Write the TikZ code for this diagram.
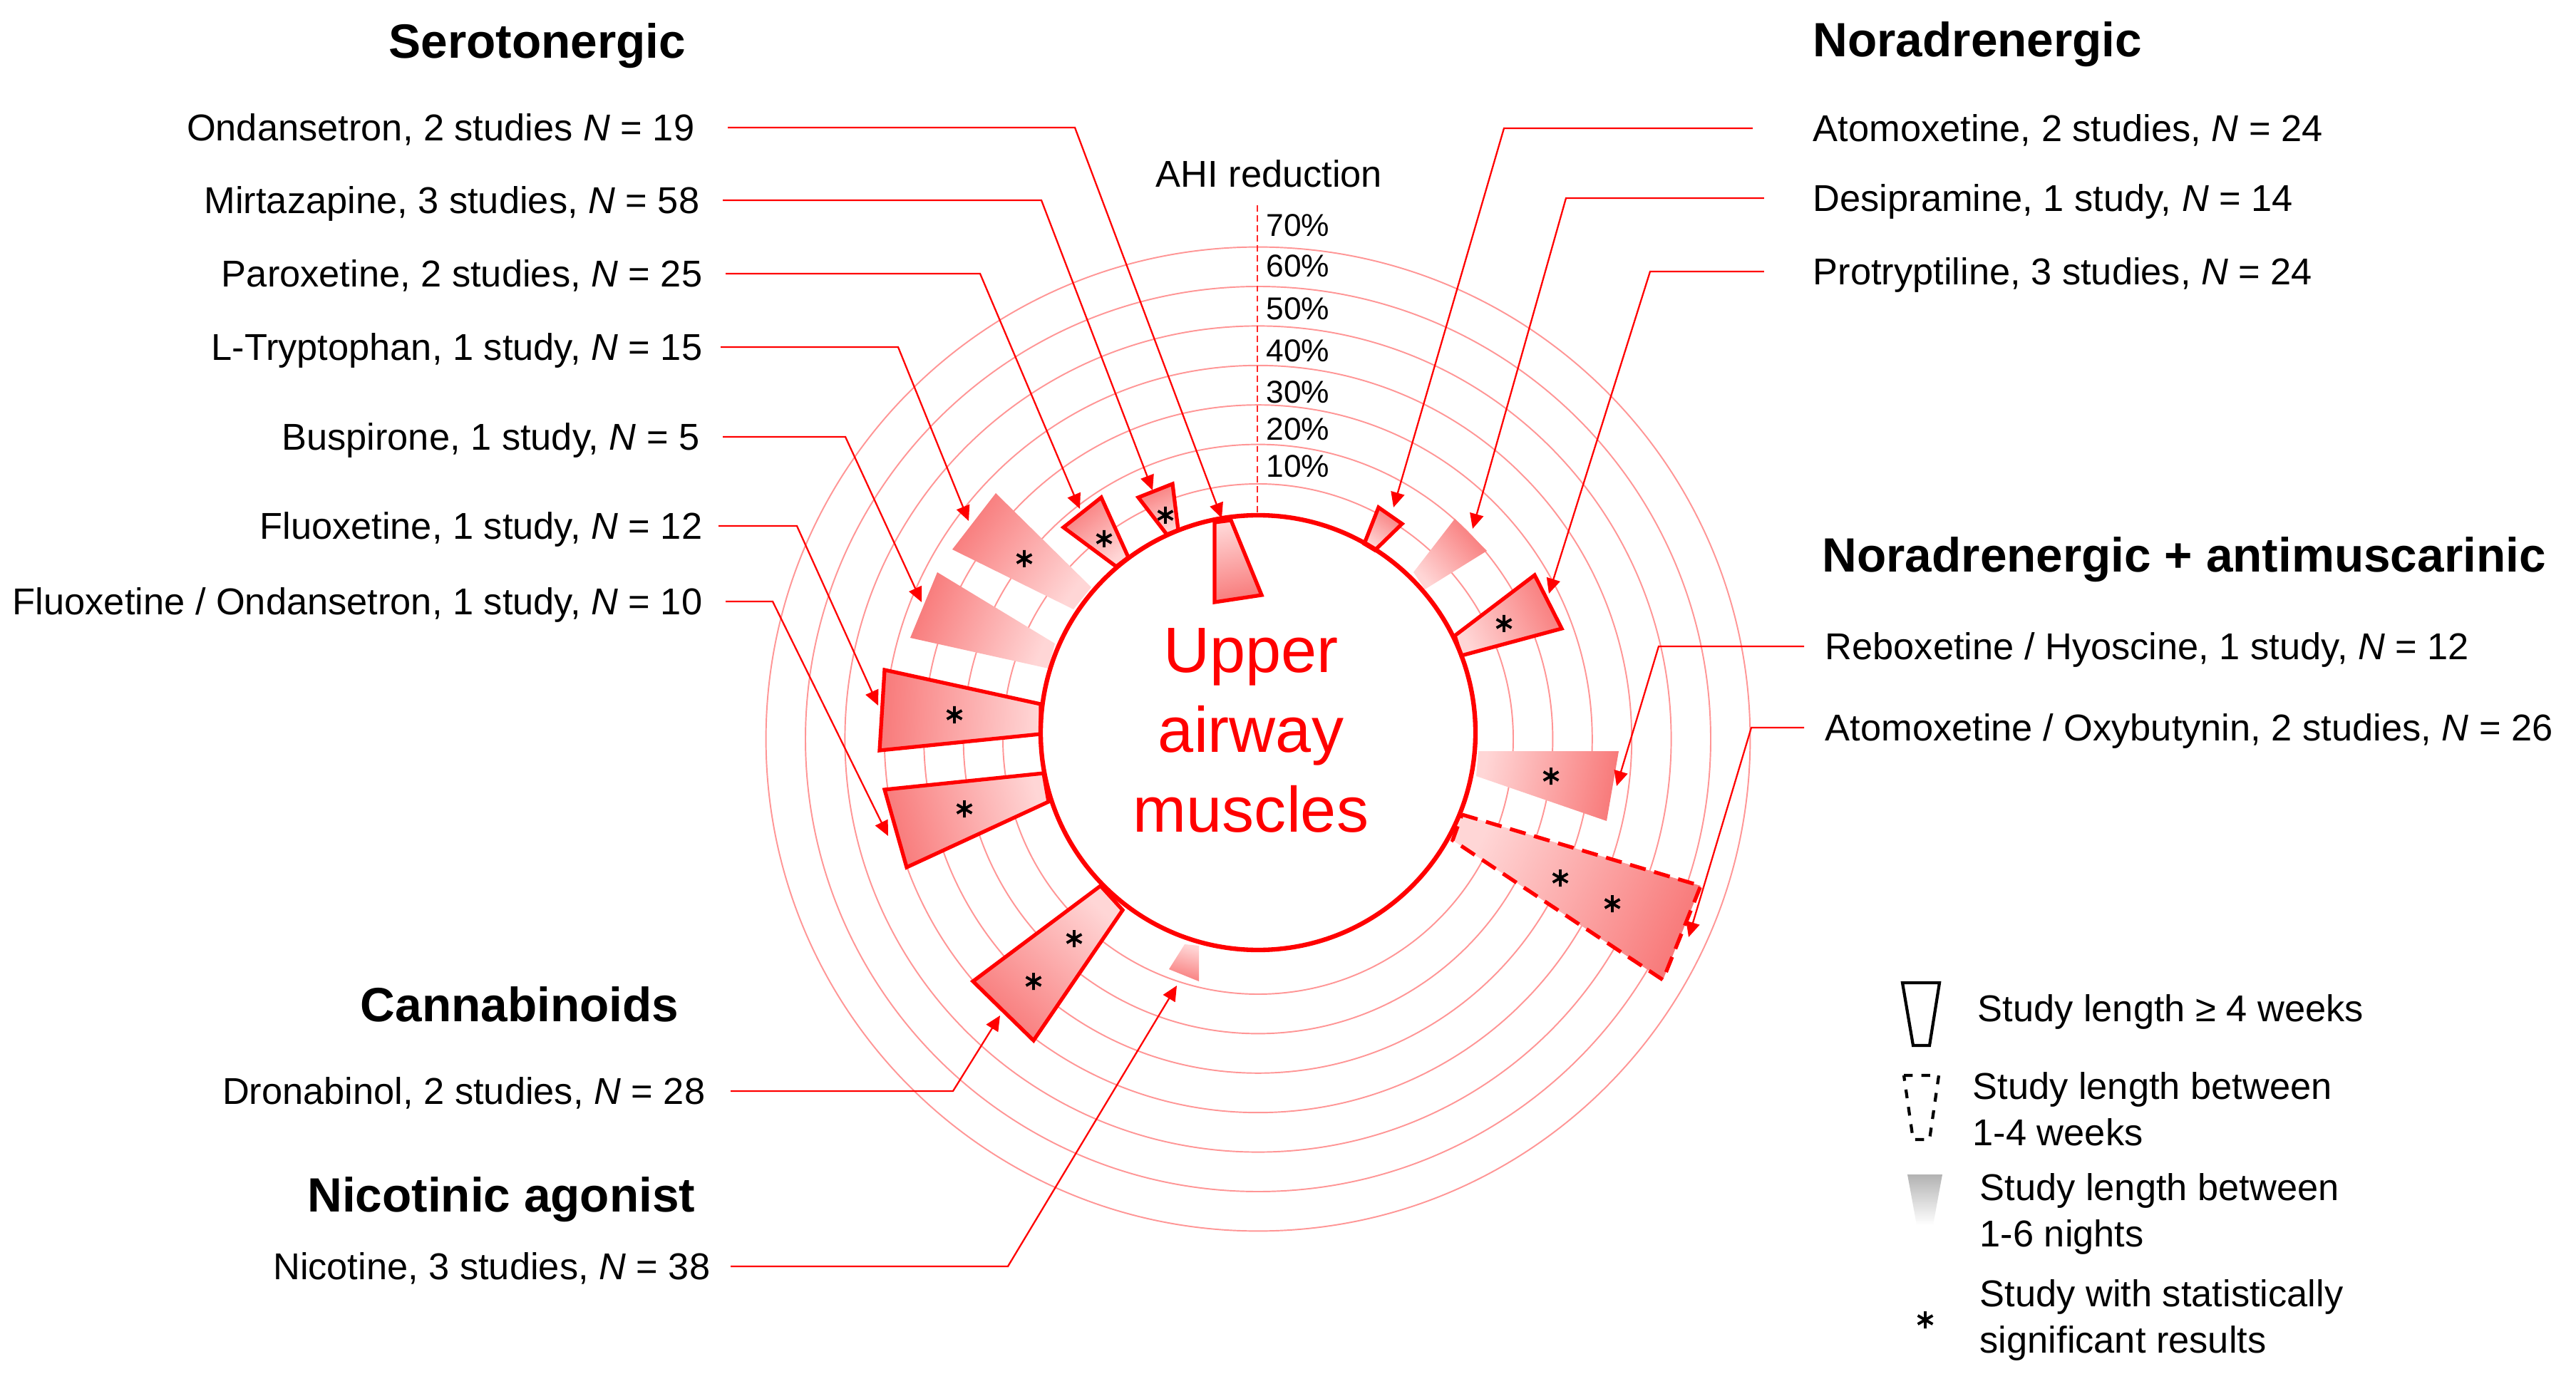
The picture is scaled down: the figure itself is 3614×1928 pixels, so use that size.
\documentclass[tikz,border=0pt]{standalone}
\usepackage{fontspec}
\setmainfont{Liberation Sans}
\usetikzlibrary{arrows.meta}
\definecolor{wdark}{RGB}{248,122,122}
\definecolor{wlight}{RGB}{255,214,214}
\definecolor{ringc}{RGB}{255,150,150}
\begin{document}
\begin{tikzpicture}[x=0.01cm,y=-0.01cm,
  ring/.style={draw=ringc, line width=0.55pt},
  conn/.style={draw=red, line width=0.65pt, -{Triangle[length=6pt,width=5.5pt]}},
  solidw/.style={draw=red, line width=1.5pt, line join=miter},
  dashw/.style={draw=red, line width=1.5pt, dash pattern=on 6.5pt off 3.5pt},
  lab/.style={font=\fontsize{14.9}{18}\selectfont, inner sep=0pt, text height=10.7pt, text depth=0pt},
  head/.style={font=\fontsize{19.2}{23}\selectfont\bfseries, inner sep=0pt, text height=13.75pt, text depth=0pt},
  pct/.style={font=\fontsize{12.6}{15}\selectfont, inner sep=0pt, anchor=west, text height=9pt, text depth=0pt},
  leg/.style={font=\fontsize{14.9}{18.5}\selectfont, inner sep=0pt, anchor=west, align=left},
  sigstar/.pic={\draw[line width=1.1pt, black] (0,-12)--(0,12) (-10.4,-6)--(10.4,6) (-10.4,6)--(10.4,-6);}
]
\useasboundingbox (0,0) rectangle (3614,1928);
\fill[white] (0,0) rectangle (3614,1928);

% rings
\foreach \r in {358,413.4,468.8,524.2,579.6,635,690.4}
  \draw[ring] (1765,1037) circle[radius=\r];

% axis
\coordinate (axTop) at (1764,288);
\coordinate (axBot) at (1764,723);
\draw[red!85, line width=0.5pt, dash pattern=on 2.5pt off 1.5pt] (axTop) -- (axBot);

% wedges
% A Ondansetron (inward)
\path[solidw, left color=wlight, right color=wdark, shading angle=11.4] (1704,733) -- (1727,730) -- (1770,835) -- (1704,845) -- cycle;
% B Mirtazapine
\path[solidw, left color=wlight, right color=wdark, shading angle=202] (1597,698) -- (1645,679) -- (1653,744) -- (1637,750) -- cycle;
\pic at (1635,723) {sigstar};
% C Paroxetine
\path[solidw, left color=wlight, right color=wdark, shading angle=219] (1492,740) -- (1545,698) -- (1583,782) -- (1566,795) -- cycle;
\pic at (1549,756) {sigstar};
% D L-Tryptophan
\path[left color=wlight, right color=wdark, shading angle=234] (1336,771) -- (1397,692) -- (1531,824) -- (1506,855) -- cycle;
\pic at (1437,784) {sigstar};
% E Buspirone
\path[left color=wlight, right color=wdark, shading angle=248] (1315,803) -- (1480,903) -- (1471,938) -- (1277,895) -- cycle;
% F Fluoxetine
\path[solidw, left color=wlight, right color=wdark, shading angle=267] (1241,940) -- (1460,988) -- (1460,1030) -- (1234,1053) -- cycle;
\pic at (1339,1003) {sigstar};
% G Fluoxetine / Ondansetron
\path[solidw, left color=wlight, right color=wdark, shading angle=285] (1241,1108) -- (1464,1085) -- (1471,1125) -- (1272,1217) -- cycle;
\pic at (1353,1135) {sigstar};
% H Dronabinol
\path[solidw, left color=wlight, right color=wdark, shading angle=316] (1544,1243) -- (1575,1277) -- (1450,1460) -- (1365,1377) -- cycle;
\pic at (1507,1317) {sigstar};
\pic at (1450,1377) {sigstar};
% I Nicotine
\path[left color=wlight, right color=wdark, shading angle=345] (1662,1325) -- (1682,1327) -- (1682,1377) -- (1640,1360) -- cycle;
% J Atomoxetine
\path[solidw, left color=wlight, right color=wdark, shading angle=147] (1934,712) -- (1967,735) -- (1929,772) -- (1914,763) -- cycle;
% K Desipramine
\path[left color=wlight, right color=wdark, shading angle=132] (2041,728) -- (2086,773) -- (1999,827) -- (1983,803) -- cycle;
% L Protryptiline
\path[solidw, left color=wlight, right color=wdark, shading angle=116] (2041,892) -- (2153,807) -- (2191,882) -- (2050,920) -- cycle;
\pic at (2110,875) {sigstar};
% M Reboxetine / Hyoscine
\path[left color=wlight, right color=wdark, shading angle=80] (2074,1054) -- (2271,1054) -- (2254,1152) -- (2071,1089) -- cycle;
\pic at (2176,1089) {sigstar};
% N Atomoxetine / Oxybutynin
\path[dashw, left color=wlight, right color=wdark, shading angle=65] (2051,1143) -- (2386,1243) -- (2333,1375) -- (2038,1179) -- cycle;
\pic at (2189,1232) {sigstar};
\pic at (2262,1268) {sigstar};

% main circle
\draw[red, line width=1.8pt] (1765,1028) circle[radius=305];
\node[text=red, font=\fontsize{25.6}{31.9}\selectfont, align=center] (ctr) at (1755,1025) {Upper\\airway\\muscles};

% AHI scale
\node[lab, anchor=west] (ahi) at (1621,244) {AHI reduction};
\node[pct] (p70) at (1776,316) {70\%};
\node[pct] (p60) at (1776,373) {60\%};
\node[pct] (p50) at (1776,433) {50\%};
\node[pct] (p40) at (1776,492) {40\%};
\node[pct] (p30) at (1776,550) {30\%};
\node[pct] (p20) at (1776,602) {20\%};
\node[pct] (p10) at (1776,654) {10\%};

% headings
\node[head, anchor=east] (hSer) at (963,57) {Serotonergic};
\node[head, anchor=west] (hNor) at (2543,55) {Noradrenergic};
\node[head, anchor=west] (hNorA) at (2556,778) {Noradrenergic + antimuscarinic};
\node[head, anchor=east] (hCan) at (953,1409) {Cannabinoids};
\node[head, anchor=east] (hNic) at (976,1676) {Nicotinic agonist};

% left labels
\node[lab, anchor=east] (lOnd) at (975,179) {Ondansetron, 2 studies \textit{N} = 19};
\node[lab, anchor=east] (lMir) at (982,281) {Mirtazapine, 3 studies, \textit{N} = 58};
\node[lab, anchor=east] (lPar) at (986,384) {Paroxetine, 2 studies, \textit{N} = 25};
\node[lab, anchor=east] (lTry) at (986,487) {L-Tryptophan, 1 study, \textit{N} = 15};
\node[lab, anchor=east] (lBus) at (982,613) {Buspirone, 1 study, \textit{N} = 5};
\node[lab, anchor=east] (lFlu) at (986,738) {Fluoxetine, 1 study, \textit{N} = 12};
\node[lab, anchor=east] (lFlO) at (986,844) {Fluoxetine / Ondansetron, 1 study, \textit{N} = 10};
\node[lab, anchor=east] (lDro) at (990,1531) {Dronabinol, 2 studies, \textit{N} = 28};
\node[lab, anchor=east] (lNic) at (997,1777) {Nicotine, 3 studies, \textit{N} = 38};

% right labels
\node[lab, anchor=west] (lAto) at (2543,180) {Atomoxetine, 2 studies, \textit{N} = 24};
\node[lab, anchor=west] (lDes) at (2543,278) {Desipramine, 1 study, \textit{N} = 14};
\node[lab, anchor=west] (lPro) at (2543,381) {Protryptiline, 3 studies, \textit{N} = 24};
\node[lab, anchor=west] (lReb) at (2560,907) {Reboxetine / Hyoscine, 1 study, \textit{N} = 12};
\node[lab, anchor=west] (lAOx) at (2560,1021) {Atomoxetine / Oxybutynin, 2 studies, \textit{N} = 26};

% bends and tips
\coordinate (bOnd) at (1508,179);  \coordinate (tOnd) at (1714,727);
\coordinate (bMir) at (1461,281);  \coordinate (tMir) at (1617,688);
\coordinate (bPar) at (1375,384);  \coordinate (tPar) at (1515,714);
\coordinate (bTry) at (1260,487);  \coordinate (tTry) at (1359,731);
\coordinate (bBus) at (1186,613);  \coordinate (tBus) at (1293,845);
\coordinate (bFlu) at (1118,738);  \coordinate (tFlu) at (1232,990);
\coordinate (bFlO) at (1084,844);  \coordinate (tFlO) at (1246,1173);
\coordinate (bDro) at (1337,1531); \coordinate (tDro) at (1403,1425);
\coordinate (bNic) at (1414,1777); \coordinate (tNic) at (1651,1383);
\coordinate (bAto) at (2110,180);  \coordinate (tAto) at (1955,712);
\coordinate (bDes) at (2197,278);  \coordinate (tDes) at (2066,742);
\coordinate (bPro) at (2315,381);  \coordinate (tPro) at (2173,833);
\coordinate (bReb) at (2327,907);  \coordinate (tReb) at (2268,1103);
\coordinate (bAOx) at (2457,1021); \coordinate (tAOx) at (2369,1315);

% connectors
\draw[conn, shorten <=0.46cm] (lOnd.east) -- (bOnd) -- (tOnd);
\draw[conn, shorten <=0.32cm] (lMir.east) -- (bMir) -- (tMir);
\draw[conn, shorten <=0.32cm] (lPar.east) -- (bPar) -- (tPar);
\draw[conn, shorten <=0.25cm] (lTry.east) -- (bTry) -- (tTry);
\draw[conn, shorten <=0.32cm] (lBus.east) -- (bBus) -- (tBus);
\draw[conn, shorten <=0.22cm] (lFlu.east) -- (bFlu) -- (tFlu);
\draw[conn, shorten <=0.32cm] (lFlO.east) -- (bFlO) -- (tFlO);
\draw[conn, shorten <=0.35cm] (lDro.east) -- (bDro) -- (tDro);
\draw[conn, shorten <=0.28cm] (lNic.east) -- (bNic) -- (tNic);
\draw[conn, shorten <=0.84cm] (lAto.west) -- (bAto) -- (tAto);
\draw[conn, shorten <=0.68cm] (lDes.west) -- (bDes) -- (tDes);
\draw[conn, shorten <=0.68cm] (lPro.west) -- (bPro) -- (tPro);
\draw[conn, shorten <=0.29cm] (lReb.west) -- (bReb) -- (tReb);
\draw[conn, shorten <=0.29cm] (lAOx.west) -- (bAOx) -- (tAOx);

% legend
\path[draw=black, line width=1.2pt, fill=white] (2669,1379) -- (2721,1379) -- (2707,1467) -- (2684,1467) -- cycle;
\node[leg] (leg1) at (2774,1420) {Study length ≥ 4 weeks};
\path[draw=black, line width=1.2pt, dash pattern=on 3.5pt off 3.5pt] (2671,1509) -- (2720,1509) -- (2707,1599) -- (2684,1599) -- cycle;
\node[leg] (leg2) at (2767,1556) {Study length between\\1-4 weeks};
\path[top color=black!30, bottom color=white] (2676,1648) -- (2725,1648) -- (2712,1719) -- (2689,1719) -- cycle;
\node[leg] (leg3) at (2777,1703) {Study length between\\1-6 nights};
\pic at (2701,1852) {sigstar};
\node[leg] (leg4) at (2777,1852) {Study with statistically\\significant results};
\end{tikzpicture}
\end{document}
